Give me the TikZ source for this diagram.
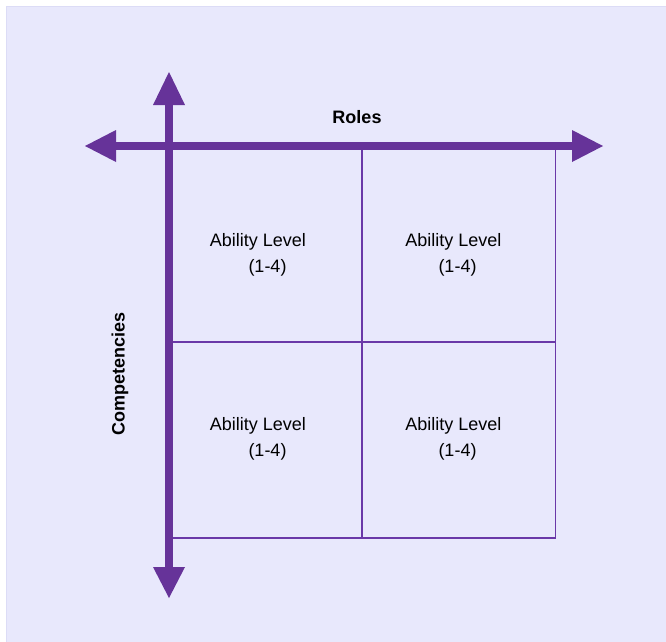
\documentclass[tikz,border=0pt]{standalone}
\usepackage{fontspec}
\setmainfont{Liberation Sans}
\begin{document}
\begin{tikzpicture}[x=1pt,y=-1pt,
  axisclr/.style={fill=axis,draw=none},
  shaft/.style={draw=axis,line width=8pt},
  gridline/.style={draw=gridc,line width=1.6pt},
  celltext/.style={font=\fontsize{18}{20}\selectfont,text=black,inner sep=0pt,anchor=base},
  axislabel/.style={font=\fontsize{18}{20}\selectfont\bfseries,text=black,inner sep=0pt}]
\definecolor{axis}{HTML}{663399}
\definecolor{gridc}{HTML}{6A38A8}
\definecolor{bg}{HTML}{E8E8FC}
\definecolor{bgedge}{HTML}{DCDCF6}
\useasboundingbox (0,0) rectangle (666,641);
% backdrop
\fill[white] (0,0) rectangle (666,641);
\draw[fill=bg,draw=bgedge,line width=1pt] (6.5,6.5) rectangle (670,645);

% 2x2 grid
\draw[gridline] (169,146) rectangle (555.5,538);
\draw[gridline] (362,146) -- (362,538);
\draw[gridline] (169,342) -- (555.5,342);

% axes with heads
\coordinate (top) at (169,72);
\coordinate (bottom) at (169,598);
\coordinate (left) at (85,146);
\coordinate (right) at (603,146);
\draw[shaft] (169,104) -- (169,568);
\draw[shaft] (115,146) -- (573,146);
\fill[axisclr] (top) -- (185,105) -- (153,105) -- cycle;
\fill[axisclr] (bottom) -- (185,567) -- (153,567) -- cycle;
\fill[axisclr] (left) -- (116,130) -- (116,162) -- cycle;
\fill[axisclr] (right) -- (572,130) -- (572,162) -- cycle;

% axis labels
\node[axislabel] (roles) at (357,117.5) {Roles};
\node[axislabel,rotate=90] (comp) at (120,373.5) {Competencies};

% cell contents
\node[celltext] (a1) at (257.8,246) {Ability Level};
\node[celltext] (b1) at (267.5,272) {(1-4)};
\node[celltext] (a2) at (453.5,246) {Ability Level};
\node[celltext] (b2) at (457.5,272) {(1-4)};
\node[celltext] (a3) at (257.8,430) {Ability Level};
\node[celltext] (b3) at (267.5,456) {(1-4)};
\node[celltext] (a4) at (453.5,430) {Ability Level};
\node[celltext] (b4) at (457.5,456) {(1-4)};
\end{tikzpicture}
\end{document}
